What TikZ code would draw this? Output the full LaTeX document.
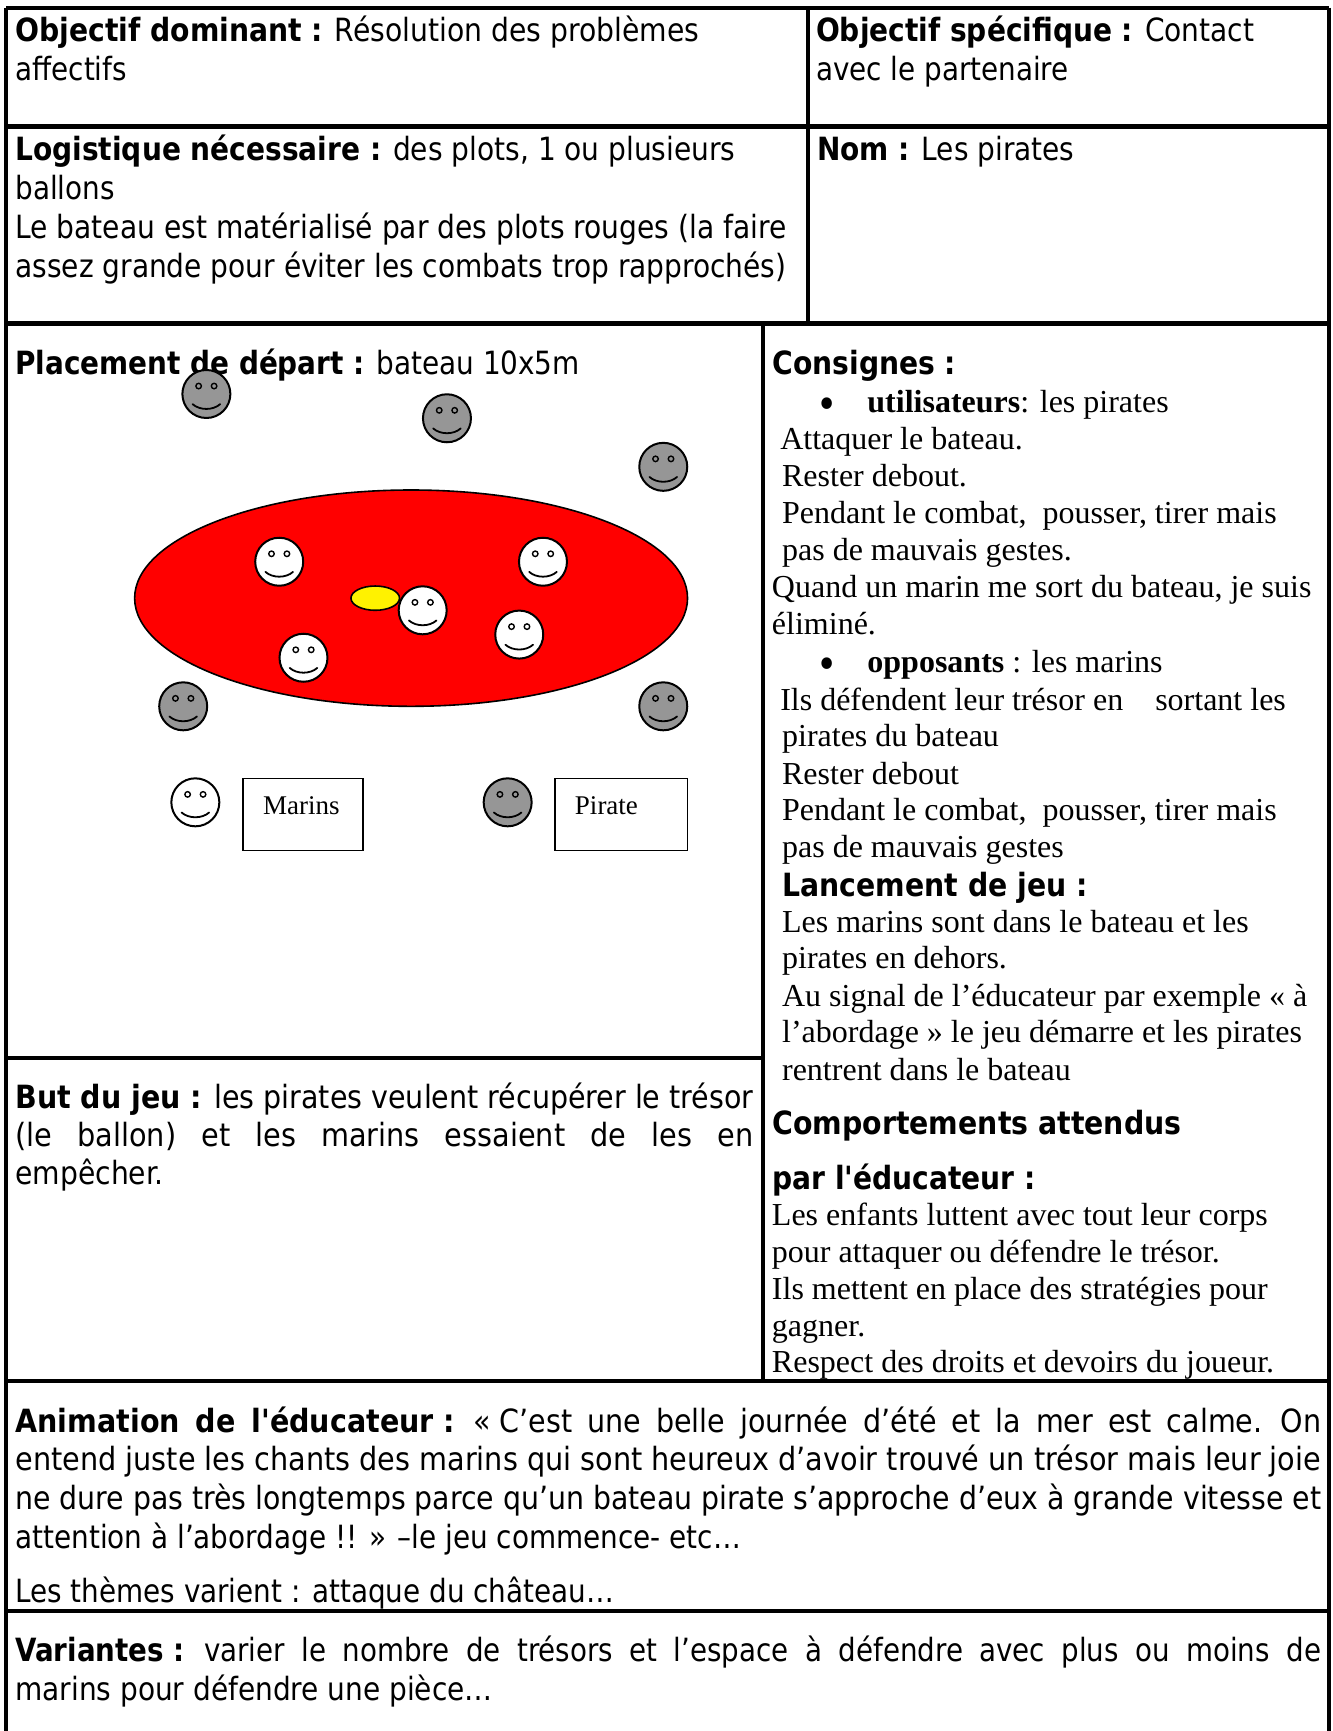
\documentclass[tikz,border=0pt]{standalone}
\usepackage{graphicx}
\usepackage{fontspec}
\newfontfamily\tahomaish{DejaVu Sans Condensed}
\newfontfamily\serifface{Liberation Serif}
\definecolor{facegray}{HTML}{969696}
\tikzset{
  x=1.1036pt,y=-1.1036pt,
  txt/.style={anchor=base west,inner sep=0pt,outer sep=0pt,font=\fontsize{32}{36}\selectfont\tahomaish},
  srf/.style={anchor=base west,inner sep=0pt,outer sep=0pt,font=\fontsize{32}{36}\selectfont\serifface},
  bulletmark/.style={anchor=base west,inner sep=0pt,outer sep=0pt,font=\fontsize{40}{44}\selectfont\tahomaish},
  legendtxt/.style={anchor=base west,inner sep=0pt,outer sep=0pt,font=\fontsize{27}{30}\selectfont\serifface},
  rule/.style={line width=4.4pt,black},
  thinrule/.style={line width=3.6pt,black},
  facebody/.style={circle,draw=black,line width=2pt,minimum size=48pt,inner sep=0pt},
  graybody/.style={facebody,fill=facegray},
  whitebody/.style={facebody,fill=white},
  eye/.style={circle,draw=black,line width=1.4pt,minimum size=5.5pt,inner sep=0pt},
  legendbox/.style={draw=black,line width=1.6pt,inner sep=0pt},
}
\newcounter{ln}
% fit a line horizontally to the reference's extent
\newcommand{\fitl}[4]{\stepcounter{ln}\pgfmathsetlengthmacro{\fitwd}{(#3-#1)*1.1036pt}%
  \node[txt] (s\theln) at (#1,#2+1.7) {\resizebox{\fitwd}{\height}{#4}};}
\newcommand{\serl}[3]{\stepcounter{ln}\node[srf] (t\theln) at (#1,#2+1.7) {#3};}
\newcommand{\facegl}[4]{%
  \node[#4] (#1) at (#2,#3) {};
  \node[eye] (#1el) at (#2-7,#3-7.2) {};
  \node[eye] (#1er) at (#2+7,#3-7.2) {};
  \draw[line width=1.8pt,line cap=round] (#2-12.5,#3+9.2) .. controls (#2-6,#3+15) and (#2+6,#3+15) .. (#2+12.5,#3+9.2);
}
\begin{document}
\begin{tikzpicture}
\useasboundingbox (0,0) rectangle (1207,1568.5);
\fill[white] (0,0) rectangle (1207,1568.5);
% grid
\draw[rule] (5.5,7) -- (1204,7);
\draw[thinrule] (5.5,7) -- (5.5,1568.5);
\draw[thinrule] (1204,7) -- (1204,1568.5);
\draw[rule] (5.5,114.5) -- (1204,114.5);
\draw[rule] (5.5,293) -- (1204,293);
\draw[rule] (5.5,958.4) -- (691.5,958.4);
\draw[rule] (5.5,1251.5) -- (1204,1251.5);
\draw[rule] (5.5,1459.5) -- (1204,1459.5);
\draw[thinrule] (732,7) -- (732,293);
\draw[thinrule] (691.5,293) -- (691.5,1251.5);
% sans text
\fitl{14}{36.3}{633.5}{\textbf{Objectif dominant :} Résolution des problèmes}
\fitl{14}{71.3}{115}{affectifs}
\fitl{739.5}{36.3}{1136.5}{\textbf{Objectif spécifique :} Contact}
\fitl{739.5}{71.3}{968.5}{avec le partenaire}
\fitl{14}{144}{666.5}{\textbf{Logistique nécessaire :} des plots, 1 ou plusieurs}
\fitl{14}{179.5}{104}{ballons}
\fitl{14}{214.5}{712.5}{Le bateau est matérialisé par des plots rouges (la faire}
\fitl{14}{250}{712.5}{assez grande pour éviter les combats trop rapprochés)}
\fitl{740.5}{144}{973.5}{\textbf{Nom :} Les pirates}
\fitl{14}{337.5}{525.5}{\textbf{Placement de départ :} bateau 10x5m}
\fitl{700}{337.5}{866.5}{\textbf{Consignes :}}
\fitl{14}{1003}{682.5}{\textbf{But du jeu :} les pirates veulent récupérer le trésor}
\fitl{14}{1037}{682.5}{(le\hspace{16pt} ballon)\hspace{16pt} et\hspace{16pt} les\hspace{16pt} marins\hspace{16pt} essaient\hspace{16pt} de\hspace{16pt} les\hspace{16pt} en}
\fitl{14}{1072}{148.5}{empêcher.}
\fitl{14}{1296}{1197}{\textbf{Animation\hspace{6pt} de\hspace{6pt} l'éducateur :}\hspace{6pt} « C’est\hspace{6pt} une\hspace{6pt} belle\hspace{6pt} journée\hspace{6pt} d’été\hspace{6pt} et\hspace{6pt} la\hspace{6pt} mer\hspace{6pt} est\hspace{6pt} calme.\hspace{6pt} On}
\fitl{14}{1331}{1197}{entend juste les chants des marins qui sont heureux d’avoir trouvé un trésor mais leur joie}
\fitl{14}{1366}{1197}{ne dure pas très longtemps parce qu’un bateau pirate s’approche d’eux à grande vitesse et}
\fitl{14}{1401}{671.5}{attention à l’abordage !! » –le jeu commence- etc…}
\fitl{14}{1450}{556.5}{Les thèmes varient : attaque du château…}
\fitl{14}{1504}{1197}{\textbf{Variantes :}\hspace{8pt} varier\hspace{8pt} le\hspace{8pt} nombre\hspace{8pt} de\hspace{8pt} trésors\hspace{8pt} et\hspace{8pt} l’espace\hspace{8pt} à\hspace{8pt} défendre\hspace{8pt} avec\hspace{8pt} plus\hspace{8pt} ou\hspace{8pt} moins\hspace{8pt} de}
\fitl{14}{1539}{446.5}{marins pour défendre une pièce…}
\fitl{709}{811}{985.5}{\textbf{Lancement de jeu :}}
\fitl{700}{1026}{1070.5}{\textbf{Comportements attendus}}
\fitl{700}{1076}{938.5}{\textbf{par l'éducateur :}}
% serif text
\node[bulletmark] (b1) at (739.5,379.5) {•};
\serl{786}{372.5}{\textbf{utilisateurs}: les pirates}
\serl{707}{406}{Attaquer le bateau.}
\serl{708.7}{439}{Rester debout.}
\serl{708.7}{473}{Pendant le combat,\ \ pousser, tirer mais}
\serl{708.7}{506}{pas de mauvais gestes.}
\serl{699.5}{540}{Quand un marin me sort du bateau, je suis}
\serl{699.5}{573}{éliminé.}
\node[bulletmark] (b2) at (739.5,614.5) {•};
\serl{786}{607.5}{\textbf{opposants} : les marins}
\serl{707}{642}{Ils défendent leur trésor en\ \ \ \ sortant les}
\serl{708.7}{675}{pirates du bateau}
\serl{708.7}{709}{Rester debout}
\serl{708.7}{742}{Pendant le combat,\ \ pousser, tirer mais}
\serl{708.7}{775}{pas de mauvais gestes}
\serl{708.7}{843}{Les marins sont dans le bateau et les}
\serl{708.7}{876}{pirates en dehors.}
\serl{708.7}{910}{Au signal de l’éducateur par exemple « à}
\serl{708.7}{943}{l’abordage » le jeu démarre et les pirates}
\serl{708.7}{977}{rentrent dans le bateau}
\serl{699.5}{1109}{Les enfants luttent avec tout leur corps}
\serl{699.5}{1142}{pour attaquer ou défendre le trésor.}
\serl{699.5}{1176}{Ils mettent en place des stratégies pour}
\serl{699.5}{1209}{gagner.}
\serl{699.5}{1242}{Respect des droits et devoirs du joueur.}
% boat and treasure
\draw[line width=1.6pt,fill=red] (372.5,542) ellipse [x radius=250.5,y radius=98];
\draw[line width=1.6pt,fill=yellow] (340,542) ellipse [x radius=22,y radius=11];
% faces
\facegl{p1}{187}{357}{graybody}
\facegl{p2}{405}{379}{graybody}
\facegl{p3}{601}{423}{graybody}
\facegl{p4}{166}{640}{graybody}
\facegl{p5}{601}{640}{graybody}
\facegl{m1}{253}{509}{whitebody}
\facegl{m2}{492}{509}{whitebody}
\facegl{m3}{383}{553}{whitebody}
\facegl{m4}{470.5}{575}{whitebody}
\facegl{m5}{275}{596}{whitebody}
\facegl{lm}{177}{727}{whitebody}
\facegl{lp}{460}{727}{graybody}
% legend
\draw[legendbox] (220,705.5) rectangle (329,770.5);
\draw[legendbox] (503,705.5) rectangle (623,770.5);
\node[legendtxt] (lmt) at (238.5,738) {Marins};
\node[legendtxt] (lpt) at (521,738) {Pirate};
\end{tikzpicture}
\end{document}
